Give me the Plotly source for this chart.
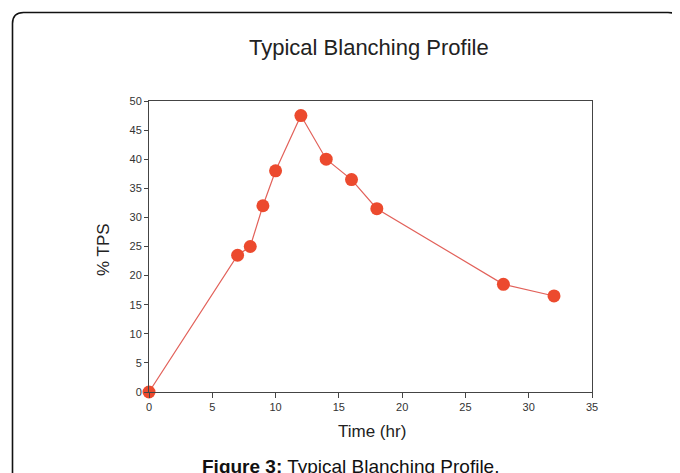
import plotly.graph_objects as go

time_hr = [0, 7, 8, 9, 10, 12, 14, 16, 18, 28, 32]
tps_pct = [0, 23.5, 25, 32, 38, 47.5, 40, 36.5, 31.5, 18.5, 16.5]
x_ticks = [0, 5, 10, 15, 20, 25, 30, 35]
y_ticks = [0, 5, 10, 15, 20, 25, 30, 35, 40, 45, 50]

FONT = "Liberation Sans, Arial, sans-serif"

fig = go.Figure()
fig.add_trace(go.Scatter(
    x=time_hr, y=tps_pct, mode="lines+markers",
    line=dict(color="#e2615a", width=1.2),
    marker=dict(color="#ec4a2e", size=13),
    cliponaxis=False, showlegend=False,
))

# page has an 8px body margin; target plot area in page pixels: x 149..592, y 101..392
OFF = 8
W, H = 443, 291
def px(x): return (x - 149) / W
def py(y): return (392 - y) / H

L, T, R, B = px(12.5), py(12.5), px(679), py(490)
dx, dy = 11 / W, 11 / H
border = (f"M {L},{B} L {L},{T-dy} Q {L},{T} {L+dx},{T} "
          f"L {R-dx},{T} Q {R},{T} {R},{T-dy} L {R},{B}")

fig.update_layout(
    width=680 - OFF, height=473 - OFF,
    margin=dict(l=149 - OFF, r=88, t=101 - OFF, b=81, autoexpand=False),
    paper_bgcolor="white", plot_bgcolor="white",
    font=dict(family=FONT, color="#222222"),
    shapes=[dict(type="path", path=border, xref="paper", yref="paper",
                 line=dict(color="#111111", width=1.6))],
    annotations=[
        dict(text="Typical Blanching Profile", x=px(369), y=py(47),
             xref="paper", yref="paper", showarrow=False,
             xanchor="center", yanchor="middle",
             font=dict(size=22, color="#222222")),
        dict(text="Time (hr)", x=px(372), y=py(431),
             xref="paper", yref="paper", showarrow=False,
             xanchor="center", yanchor="middle",
             font=dict(size=17, color="#222222")),
        dict(text="% TPS", x=px(103), y=py(250), textangle=-90,
             xref="paper", yref="paper", showarrow=False,
             xanchor="center", yanchor="middle",
             font=dict(size=17, color="#222222")),
        dict(text="<b>Figure 3:</b> Typical Blanching Profile.", x=px(350), y=py(466),
             xref="paper", yref="paper", showarrow=False,
             xanchor="center", yanchor="middle",
             font=dict(size=19, color="#111111")),
    ],
    xaxis=dict(range=[0, 35], tickvals=x_ticks, ticks="outside", ticklen=5,
               tickcolor="#444444", showline=True, linecolor="#444444",
               linewidth=1, mirror=True, showgrid=False, zeroline=False,
               tickfont=dict(size=11, color="#333333")),
    yaxis=dict(range=[0, 50], tickvals=y_ticks, ticks="outside", ticklen=4,
               tickcolor="#444444", showline=True, linecolor="#444444",
               linewidth=1, mirror=True, showgrid=False, zeroline=False,
               tickfont=dict(size=11, color="#333333")),
)

fig.write_html("out.html")
